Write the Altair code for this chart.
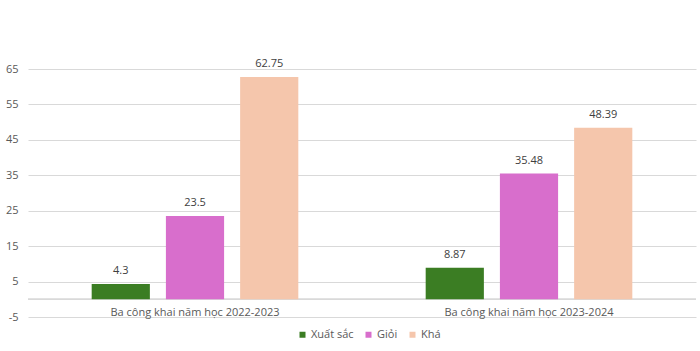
import altair as alt
import pandas as pd

categories = ["Ba công khai năm học 2022-2023", "Ba công khai năm học 2023-2024"]
series = ["Xuất sắc", "Giỏi", "Khá"]
values_2022 = [4.3, 23.5, 62.75]
values_2023 = [8.87, 35.48, 48.39]
colors = ["#3b7d23", "#d86ecc", "#f5c6ac"]
y_ticks = [-5, 5, 15, 25, 35, 45, 55, 65]

rows = []
for cat, vals in zip(categories, [values_2022, values_2023]):
    for s, v in zip(series, vals):
        rows.append({"cat": cat, "series": s, "value": v})
df = pd.DataFrame(rows)

FONT = "Open Sans"

y_axis = alt.Axis(values=y_ticks, tickCount=20, domain=False, ticks=False, labelPadding=10,
                  labelOverlap=False, labelExpr="'' + datum.value", grid=True,
                  labelFont=FONT, labelFontSize=11, labelColor="#595959",
                  gridColor="#d9d9d9", gridWidth=1, gridOpacity=1)
y_scale = alt.Scale(domain=[-5, 65], nice=False, zero=False)

base = alt.Chart(df).encode(
    x=alt.X("cat:N", sort=categories, title=None,
            scale=alt.Scale(paddingInner=0, paddingOuter=0),
            axis=alt.Axis(labelAngle=0, domain=False, ticks=False, grid=False, labelPadding=-11,
                          labelFont=FONT, labelFontSize=11, labelColor="#595959")),
    xOffset=alt.XOffset("series:N", sort=series,
                        scale=alt.Scale(paddingInner=0.216, paddingOuter=0.858)),
    y=alt.Y("value:Q", title=None, scale=y_scale, axis=y_axis),
)

bars = base.mark_bar().encode(
    y2=alt.datum(0),
    color=alt.Color("series:N", sort=series,
                    scale=alt.Scale(domain=series, range=colors),
                    legend=alt.Legend(title=None, orient="none", direction="horizontal",
                                      legendX=269, legendY=260,
                                      symbolType="square", symbolSize=36, symbolStrokeWidth=0,
                                      labelFont=FONT, labelFontSize=11, labelColor="#595959",
                                      columnPadding=9, labelOffset=3)),
)

labels = base.mark_text(dy=-8, font=FONT, fontSize=11, color="#404040", baseline="bottom").encode(
    text=alt.Text("value:Q")
)

zero_rule = alt.Chart(df).mark_rule(color="#d9d9d9", strokeWidth=1).encode(
    y=alt.datum(0, scale=y_scale, axis=y_axis)
)

chart = alt.layer(zero_rule, bars, labels).properties(
    width=668, height=248,
    background="white",
    autosize=alt.AutoSizeParams(type="none"),
    padding={"left": 28, "top": 69, "right": 4, "bottom": 34},
).configure_view(stroke=None)

chart.save("out.html", embed_options={"renderer": "svg", "actions": False})
